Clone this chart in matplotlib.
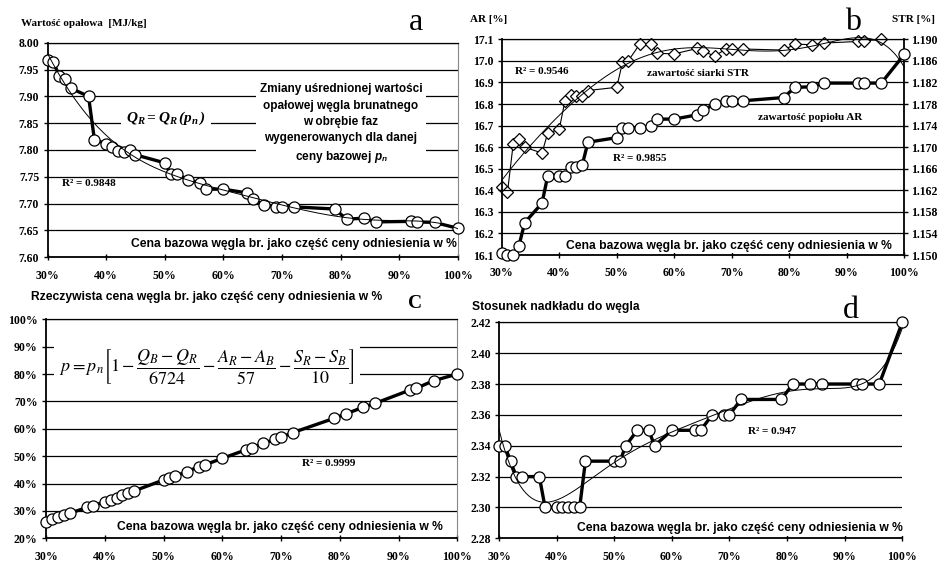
import numpy as np
import matplotlib
matplotlib.use('Agg')
import matplotlib.pyplot as plt

plt.rcParams['font.family'] = ['Liberation Serif', 'DejaVu Serif']
plt.rcParams['font.weight'] = 'normal'
plt.rcParams['mathtext.fontset'] = 'custom'
plt.rcParams['mathtext.rm'] = 'Liberation Serif:bold'
plt.rcParams['mathtext.it'] = 'Liberation Serif:italic:bold'
plt.rcParams['mathtext.bf'] = 'Liberation Serif:italic:bold'
plt.rcParams['mathtext.sf'] = 'Liberation Sans:italic:bold'

# ---------------- data ----------------
base_price = [30, 31, 32, 33, 34, 37, 38, 40, 41, 42, 43, 44, 45, 50, 51, 52, 54,
              56, 57, 60, 64, 65, 67, 69, 70, 72, 79, 81, 84, 86, 92, 93, 96, 100]
calorific = [7.967, 7.964, 7.938, 7.933, 7.915, 7.900, 7.819, 7.812, 7.806, 7.798,
             7.797, 7.800, 7.791, 7.776, 7.755, 7.756, 7.744, 7.739, 7.727, 7.727,
             7.720, 7.708, 7.698, 7.694, 7.694, 7.694, 7.690, 7.671, 7.673, 7.666,
             7.667, 7.666, 7.665, 7.654]
ash = [16.11, 16.10, 16.10, 16.143, 16.25, 16.34, 16.466, 16.467, 16.467, 16.51,
       16.51, 16.517, 16.623, 16.644, 16.69, 16.69, 16.69, 16.70, 16.73, 16.73,
       16.75, 16.77, 16.80, 16.815, 16.815, 16.815, 16.83, 16.877, 16.88, 16.897,
       16.897, 16.897, 16.897, 17.03]
sulfur = [1.1626, 1.1616, 1.1706, 1.1716, 1.1700, 1.1689, 1.1726, 1.1733, 1.1786,
          1.1797, 1.1795, 1.1794, 1.1805, 1.1811, 1.1857, 1.1860, 1.1891, 1.1892,
          1.1874, 1.1873, 1.1883, 1.1878, 1.1869, 1.1882, 1.1882, 1.1882, 1.1880,
          1.1891, 1.1890, 1.1893, 1.1896, 1.1897, 1.1900, np.nan]
real_price = [26.0, 26.9, 27.7, 28.5, 29.1, 31.3, 31.8, 33.4, 34.0, 34.6, 35.8, 36.4,
              37.3, 41.3, 41.9, 42.8, 44.3, 46.2, 46.8, 49.2, 52.3, 53.1, 54.7, 56.2,
              56.9, 58.6, 63.8, 65.4, 67.9, 69.3, 74.2, 74.8, 77.6, 80.0]
overburden = [2.34, 2.34, 2.33, 2.32, 2.32, 2.32, 2.30, 2.30, 2.30, 2.30, 2.30, 2.30,
              2.33, 2.33, 2.33, 2.34, 2.35, 2.35, 2.34, 2.35, 2.35, 2.35, 2.36, 2.36,
              2.36, 2.37, 2.37, 2.38, 2.38, 2.38, 2.38, 2.38, 2.38, 2.42]

x_ticks = [30, 40, 50, 60, 70, 80, 90, 100]
x_tick_labels = ['30%', '40%', '50%', '60%', '70%', '80%', '90%', '100%']
xlabel_text = 'Cena bazowa węgla br. jako część ceny odniesienia w %'

W, H = 940, 562
fig = plt.figure(figsize=(W / 100, H / 100), dpi=100)
fig.patch.set_facecolor('white')


def axes_px(l, t, r, b):
    return fig.add_axes([l / W, 1 - b / H, (r - l) / W, (b - t) / H])


def ftext(x, y, s, **kw):
    kw.setdefault('weight', 'bold')
    return fig.text(x / W, 1 - y / H, s, **kw)


def trend(x, y, deg):
    x = np.asarray(x, float)
    y = np.asarray(y, float)
    m = ~np.isnan(y)
    c = np.polyfit(x[m] / 100, y[m], deg)
    xs = np.linspace(30, 100, 300)
    return xs, np.polyval(c, xs / 100)


TICK_FS = 8.5


def bold_ticks(ax):
    for lbl in ax.get_xticklabels() + ax.get_yticklabels():
        lbl.set_fontweight('bold')


def style(ax, ylim, yticks, ylabels):
    ax.set_xlim(30, 100)
    ax.set_ylim(*ylim)
    ax.set_xticks(x_ticks)
    ax.set_xticklabels(x_tick_labels)
    ax.set_yticks(yticks)
    ax.set_yticklabels(ylabels)
    ax.grid(axis='y', color='black', lw=0.9)
    ax.set_axisbelow(True)
    for s in ('left', 'bottom'):
        ax.spines[s].set_color('black')
        ax.spines[s].set_linewidth(1.3)
    ax.spines['top'].set_color('black')
    ax.spines['top'].set_linewidth(0.9)
    ax.spines['right'].set_color('#888888')
    ax.spines['right'].set_linewidth(0.8)
    ax.tick_params(axis='y', direction='out', length=3, width=1, pad=3,
                   labelsize=TICK_FS)
    ax.tick_params(axis='x', direction='inout', length=4, width=1, pad=7,
                   labelsize=TICK_FS)
    bold_ticks(ax)


thick = dict(color='black', lw=2.4, marker='o', ms=8, mfc='white', mec='black',
             mew=0.9, zorder=3)
thin_trend = dict(color='black', lw=0.7, zorder=4)
sans = dict(family='Liberation Sans')
XL_FS = 8.75

# ---------------- panel a ----------------
axa = axes_px(47.5, 42.7, 458, 257.3)
style(axa, (7.60, 8.00), np.arange(7.60, 8.001, 0.05),
      [f'{v:.2f}' for v in np.arange(7.60, 8.001, 0.05)])
axa.plot(base_price, calorific, clip_on=False, **thick)
axa.plot(*trend(base_price, calorific, 6), **thin_trend)
ftext(21, 23, 'Wartość opałowa  [MJ/kg]', fontsize=8, va='center', ha='left')
ftext(416, 23, 'a', fontsize=23, weight='normal', ha='center', va='center')
ftext(62, 183, 'R² = 0.9848', fontsize=8, va='center')
ftext(457, 243.5, xlabel_text, fontsize=XL_FS, ha='right', va='center',
      bbox=dict(facecolor='white', edgecolor='none', pad=1), **sans)
ftext(166, 118, r'$\mathbf{Q}_{\mathbf{R}}\mathbf{=Q}_{\mathbf{R}}\mathbf{\,(p}_{\mathbf{n}}\mathbf{\,)}$',
      fontsize=11, ha='center', va='center',
      bbox=dict(facecolor='white', edgecolor='none', pad=4))
ftext(341, 124, 'Zmiany uśrednionej wartości\nopałowej węgla brunatnego\nw obrębie faz\n'
      'wygenerowanych dla danej\nceny bazowej $\\mathsf{p}_{\\mathsf{n}}$',
      fontsize=8.5, ha='center', va='center', linespacing=1.45,
      bbox=dict(facecolor='white', edgecolor='none', boxstyle='square,pad=0.35'), **sans)

# ---------------- panel b ----------------
axb = axes_px(501.7, 39.3, 904.3, 255)
ar_ticks = np.round(np.arange(16.1, 17.101, 0.1), 1)
style(axb, (16.1, 17.1), ar_ticks, [f'{v:.1f}' for v in ar_ticks])
axb.spines['right'].set_visible(False)
axb2 = axb.twinx()
str_ticks = np.round(np.arange(1.150, 1.1901, 0.004), 3)
axb2.set_ylim(1.150, 1.190)
axb2.set_yticks(str_ticks)
axb2.set_yticklabels([f'{v:.3f}' for v in str_ticks])
for s in ('left', 'top', 'bottom'):
    axb2.spines[s].set_visible(False)
axb2.spines['right'].set_color('black')
axb2.spines['right'].set_linewidth(1.3)
axb2.tick_params(axis='y', direction='out', length=3, width=1, pad=2,
                 labelsize=TICK_FS)
bold_ticks(axb2)
axb2.plot(base_price, sulfur, color='black', lw=0.8, marker='D', ms=6, mfc='white',
          mec='black', mew=0.9, zorder=3, clip_on=False)
axb2.plot(*trend(base_price, sulfur, 6), clip_on=False, **thin_trend)
# ash on the left axis, drawn above the sulfur axis
axb.set_zorder(axb2.get_zorder() + 1)
axb.patch.set_visible(False)
axb.plot(base_price, ash, clip_on=False, **thick)
ftext(470, 20, 'AR [%]', fontsize=8, va='center', ha='left')
ftext(935, 20, 'STR [%]', fontsize=8, va='center', ha='right')
ftext(853, 22, 'b', fontsize=23, weight='normal', ha='center', va='center')
ftext(515, 72, 'R² = 0.9546', fontsize=8, va='center')
ftext(647, 73.5, 'zawartość siarki STR', fontsize=8, va='center')
ftext(758, 117.5, 'zawartość popiołu AR', fontsize=8, va='center')
ftext(613, 158.5, 'R² = 0.9855', fontsize=8, va='center')
ftext(892, 245.5, xlabel_text, fontsize=XL_FS, ha='right', va='center',
      bbox=dict(facecolor='white', edgecolor='none', pad=1), **sans)

# ---------------- panel c ----------------
axc = axes_px(46, 319.3, 457.3, 538.3)
pc_ticks = list(range(20, 101, 10))
style(axc, (20, 100), pc_ticks, [f'{v}%' for v in pc_ticks])
axc.plot(base_price, real_price, clip_on=False, **thick)
ftext(31, 297, 'Rzeczywista cena węgla br. jako część ceny odniesienia w %',
      fontsize=XL_FS, va='center', ha='left', **sans)
ftext(415, 303, 'C', fontsize=14, ha='center', va='center')
ftext(207, 366,
      r'$p=p_n\left[1-\dfrac{Q_B-Q_R}{6724}-\dfrac{A_R-A_B}{57}-\dfrac{S_R-S_B}{10}\right]$',
      fontsize=13, weight='normal', math_fontfamily='stix', ha='center', va='center',
      bbox=dict(facecolor='white', edgecolor='none', pad=4))
ftext(302, 463.5, 'R² = 0.9999', fontsize=8, va='center')
ftext(443, 527, xlabel_text, fontsize=XL_FS, ha='right', va='center',
      bbox=dict(facecolor='white', edgecolor='none', pad=1), **sans)

# ---------------- panel d ----------------
axd = axes_px(499, 322.3, 902.3, 538.3)
pd_ticks = np.round(np.arange(2.28, 2.4201, 0.02), 2)
style(axd, (2.28, 2.42), pd_ticks, [f'{v:.2f}' for v in pd_ticks])
axd.spines['right'].set_visible(False)
axd.plot(base_price, overburden, clip_on=False, **thick)
axd.plot(*trend(base_price, overburden, 6), clip_on=False, **thin_trend)
ftext(472, 307, 'Stosunek nadkładu do węgla', fontsize=XL_FS, va='center', ha='left', **sans)
ftext(851, 311, 'd', fontsize=23, weight='normal', ha='center', va='center')
ftext(748, 431, 'R² = 0.947', fontsize=8, va='center')
ftext(903, 528.5, xlabel_text, fontsize=XL_FS, ha='right', va='center',
      bbox=dict(facecolor='white', edgecolor='none', pad=1), **sans)

fig.savefig('out.png', dpi=100, facecolor='white')
